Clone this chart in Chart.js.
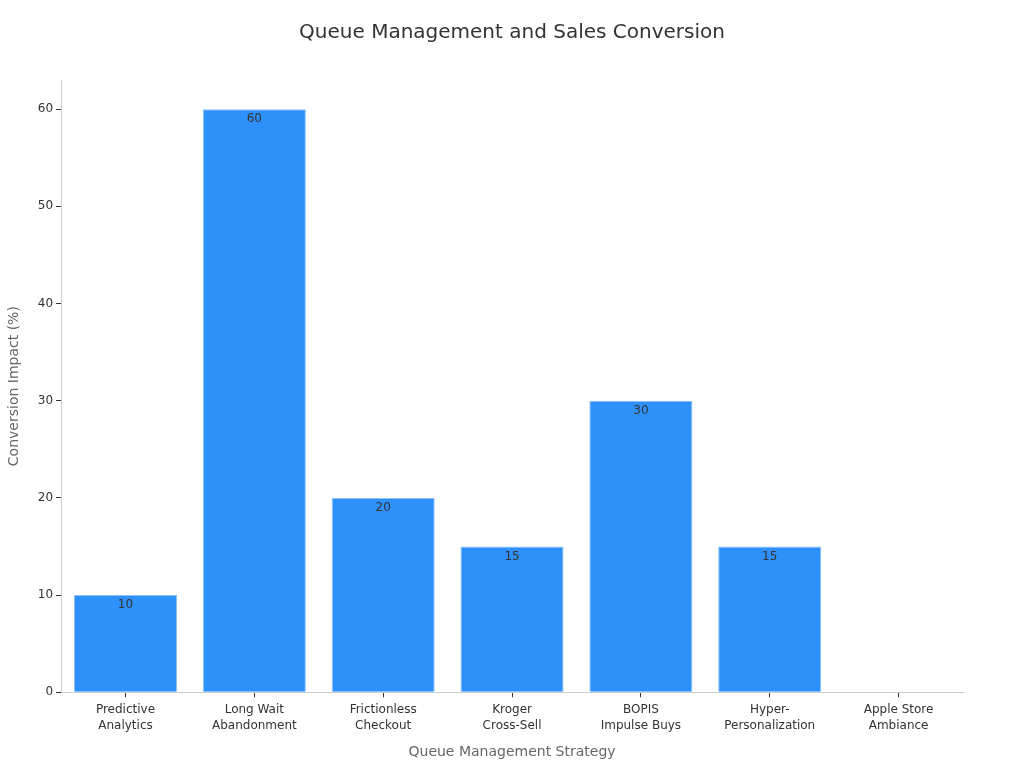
<!DOCTYPE html>
<html>
<head>
<meta charset="utf-8">
<script src="https://cdn.jsdelivr.net/npm/chart.js@4/dist/chart.umd.min.js"></script>
<style>
html,body{margin:0;padding:0;background:#fff;}
#wrap{width:1024px;height:768px;}
</style>
</head>
<body>
<div id="wrap"><canvas id="c" width="1024" height="768"></canvas></div>
<script>
const categories = [
  ["Predictive", "Analytics"],
  ["Long Wait", "Abandonment"],
  ["Frictionless", "Checkout"],
  ["Kroger", "Cross-Sell"],
  ["BOPIS", "Impulse Buys"],
  ["Hyper-", "Personalization"],
  ["Apple Store", "Ambiance"]
];
const conversionImpact = [10, 60, 20, 15, 30, 15, 0];
const yTicks = [0, 10, 20, 30, 40, 50, 60];
const chartTitle = 'Queue Management and Sales Conversion';

const FONT = "'DejaVu Sans', sans-serif";

const valueLabels = {
  id: 'valueLabels',
  afterDatasetsDraw(chart) {
    const ctx = chart.ctx;
    const meta = chart.getDatasetMeta(0);
    ctx.save();
    ctx.font = "12px " + FONT;
    ctx.fillStyle = "#333";
    ctx.textAlign = "center";
    ctx.textBaseline = "middle";
    meta.data.forEach((bar, i) => {
      const v = conversionImpact[i];
      if (!v) return;
      ctx.fillText(String(v), bar.x, bar.y + 10);
    });
    ctx.restore();
  }
};

const centeredTitle = {
  id: 'centeredTitle',
  afterDraw(chart) {
    const ctx = chart.ctx;
    ctx.save();
    ctx.font = "20px " + FONT;
    ctx.fillStyle = "#333";
    ctx.textAlign = "center";
    ctx.textBaseline = "middle";
    ctx.fillText(chartTitle, chart.width / 2, 33);
    ctx.restore();
  }
};

new Chart(document.getElementById('c'), {
  type: 'bar',
  data: {
    labels: categories,
    datasets: [{
      data: conversionImpact,
      backgroundColor: '#2e90fa',
      borderColor: '#8cc0fb',
      borderWidth: 1,
      categoryPercentage: 0.8,
      barPercentage: 1.0
    }]
  },
  options: {
    responsive: false,
    animation: false,
    layout: { padding: { top: 80, right: 61, bottom: 7, left: 6 } },
    plugins: {
      legend: { display: false },
      tooltip: { enabled: false },
      title: { display: false }
    },
    scales: {
      x: {
        offset: true,
        grid: { display: true, offset: false, drawOnChartArea: false, drawTicks: true, tickLength: 5, color: '#333' },
        border: { display: true, color: '#ccc' },
        ticks: { color: '#333', font: { family: FONT, size: 12, lineHeight: 1.33 }, maxRotation: 0, padding: 5 },
        title: { display: true, text: 'Queue Management Strategy', color: '#666', font: { family: FONT, size: 14 }, padding: { top: 5, bottom: 0 } }
      },
      y: {
        min: 0,
        max: 63,
        afterBuildTicks(axis) { axis.ticks = yTicks.map(v => ({ value: v })); },
        grid: { display: true, drawOnChartArea: false, drawTicks: true, tickLength: 5, color: '#333' },
        border: { display: true, color: '#ccc' },
        ticks: { color: '#333', font: { family: FONT, size: 12 }, padding: 3 },
        title: { display: true, text: 'Conversion Impact (%)', color: '#666', font: { family: FONT, size: 14 }, padding: { top: 0, bottom: 12 } }
      }
    }
  },
  plugins: [valueLabels, centeredTitle]
});
</script>
</body>
</html>
